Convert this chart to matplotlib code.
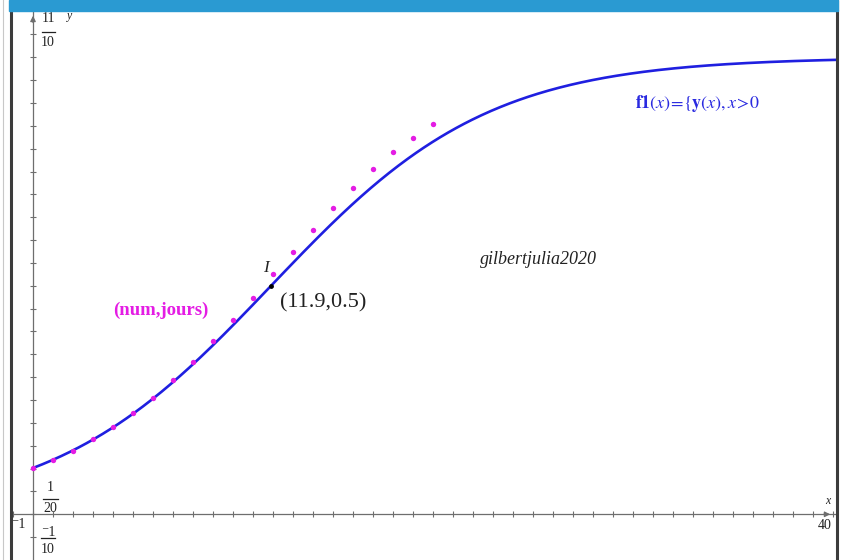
import numpy as np
import matplotlib
matplotlib.use("Agg")
import matplotlib.pyplot as plt
from matplotlib.lines import Line2D
from matplotlib.patches import Rectangle

# ---- data ----
days = list(range(0, 21))
values = [0.101, 0.119, 0.139, 0.164, 0.190, 0.221, 0.255, 0.293, 0.334, 0.379,
          0.426, 0.474, 0.525, 0.574, 0.623, 0.670, 0.713, 0.755, 0.792, 0.823, 0.853]
# logistic model f1(x) = 1 / (1 + a*exp(-k x)), inflection at (11.9, 0.5)
model_a = 8.87
model_k = 0.1834
inflection = (11.9, 0.5)
x_window = (-1, 40)
y_window = (-0.1, 1.1)
y_scale = 0.05

W, H = 851, 560
fig = plt.figure(figsize=(W / 100, H / 100), dpi=100)
fig.patch.set_facecolor("white")

left_px, right_px = 12, 835
ppu_x = 20.0
xlim = (x_window[0] - 1 / ppu_x, x_window[0] - 1 / ppu_x + (right_px - left_px) / ppu_x)
ppu_y = 457.0
ax_h_px = (y_window[1] - y_window[0]) * ppu_y
ax = fig.add_axes([left_px / W, 0.0, (right_px - left_px) / W, ax_h_px / H])
ax.set_xlim(*xlim)
ax.set_ylim(*y_window)
ax.set_facecolor("white")

axis_col = "#6e6e6e"
for s in ["top", "right"]:
    ax.spines[s].set_visible(False)
ax.spines["left"].set_position(("data", 0))
ax.spines["bottom"].set_position(("data", 0))
ax.spines["left"].set_color(axis_col)
ax.spines["bottom"].set_color(axis_col)
ax.spines["left"].set_linewidth(0.9)
ax.spines["bottom"].set_linewidth(0.9)
ax.set_xticks(np.arange(x_window[0], x_window[1] + 1, 1))
ax.set_yticks(np.arange(-0.05, y_window[1], y_scale))
ax.tick_params(direction="inout", length=5, width=0.8, color=axis_col,
               labelbottom=False, labelleft=False)

# arrows
ax.annotate("", xy=(x_window[1], 0), xytext=(x_window[1] - 0.6, 0),
            arrowprops=dict(arrowstyle="-|>", color=axis_col, lw=0.9, mutation_scale=8),
            annotation_clip=False)
ax.annotate("", xy=(0, y_window[1] - 0.003), xytext=(0, y_window[1] - 0.03),
            arrowprops=dict(arrowstyle="-|>", color=axis_col, lw=0.9, mutation_scale=8),
            annotation_clip=False)

# curve
xs = np.linspace(0.0, xlim[1], 600)
ys = 1.0 / (1.0 + model_a * np.exp(-model_k * xs))
ax.plot(xs, ys, color="#1f1fe0", lw=1.9, zorder=3, clip_on=False)

# points
ax.scatter(days, values, s=15, color="#e41ce4", zorder=4, linewidths=0)

# inflection point
ax.scatter([inflection[0]], [inflection[1]], s=6, color="black", zorder=5)

serif = ["Liberation Serif", "DejaVu Serif"]
ax.text(11.5, 0.539, "I", fontsize=12.5, style="italic", family=serif,
        ha="left", va="center", color="#222222")
ax.text(12.35, 0.462, "(11.9,0.5)", fontsize=16, family=serif,
        ha="left", va="center", color="#222222")
ax.text(4.0, 0.447, "(num,jours)", fontsize=13.5, family=serif, weight="bold",
        ha="left", va="center", color="#e41ce4")
plt.rcParams["mathtext.fontset"] = "stix"
ax.text(30.1, 0.898, r"$\mathbf{f1}(x)\!=\!\{\mathbf{y}(x),x\!>\!0$", fontsize=13,
        ha="left", va="center", color="#2a2ae0")
ax.text(22.35, 0.5576, "gilbertjulia2020", fontsize=13, style="italic", family=serif,
        ha="left", va="center", color="#222222")


def frac(xc, num, yn, yl, den, yd, x0, x1):
    ax.text(xc, yn, num, fontsize=10, family=serif, ha="center", va="center", color="#222222")
    ax.plot([x0, x1], [yl, yl], color="#222222", lw=0.9, clip_on=False)
    ax.text(xc, yd, den, fontsize=10, family=serif, ha="center", va="center", color="#222222")


frac(0.75, "11", 1.085, 1.056, "10", 1.032, 0.45, 1.1)
frac(0.85, "1", 0.0576, 0.0335, "20", 0.0116, 0.5, 1.25)
frac(0.75, "\u207b1", -0.040, -0.052, "10", -0.076, 0.42, 1.1)

ax.text(-0.75, -0.023, "\u207b1", fontsize=10, family=serif, ha="center", va="center", color="#222222")
ax.text(39.95, -0.025, "40", fontsize=10, family=serif, ha="right", va="center", color="#222222")
ax.text(39.75, 0.029, "x", fontsize=8.5, style="italic", family=serif, ha="center", va="center", color="#222222")
ax.text(1.83, 1.091, "y", fontsize=8.5, style="italic", family=serif, ha="center", va="center", color="#222222")

# frame decorations (figure pixel coordinates)
def px_line(x0, y0, x1, y1, color, lw):
    fig.add_artist(Line2D([x0 / W, x1 / W], [1 - y0 / H, 1 - y1 / H], color=color,
                          lw=lw, transform=fig.transFigure))

px_line(3, 0, 3, H, "#c8c8c8", 0.8)
px_line(10.5, 0, 10.5, H, "#3c3c3c", 2.2)
px_line(836.5, 0, 836.5, H, "#3c3c3c", 2.2)
fig.add_artist(Rectangle((9 / W, 1 - 11 / H), (838 - 9) / W, 11 / H,
                         transform=fig.transFigure, color="#2a9ad2", zorder=10))

fig.savefig("out.png", dpi=100)
